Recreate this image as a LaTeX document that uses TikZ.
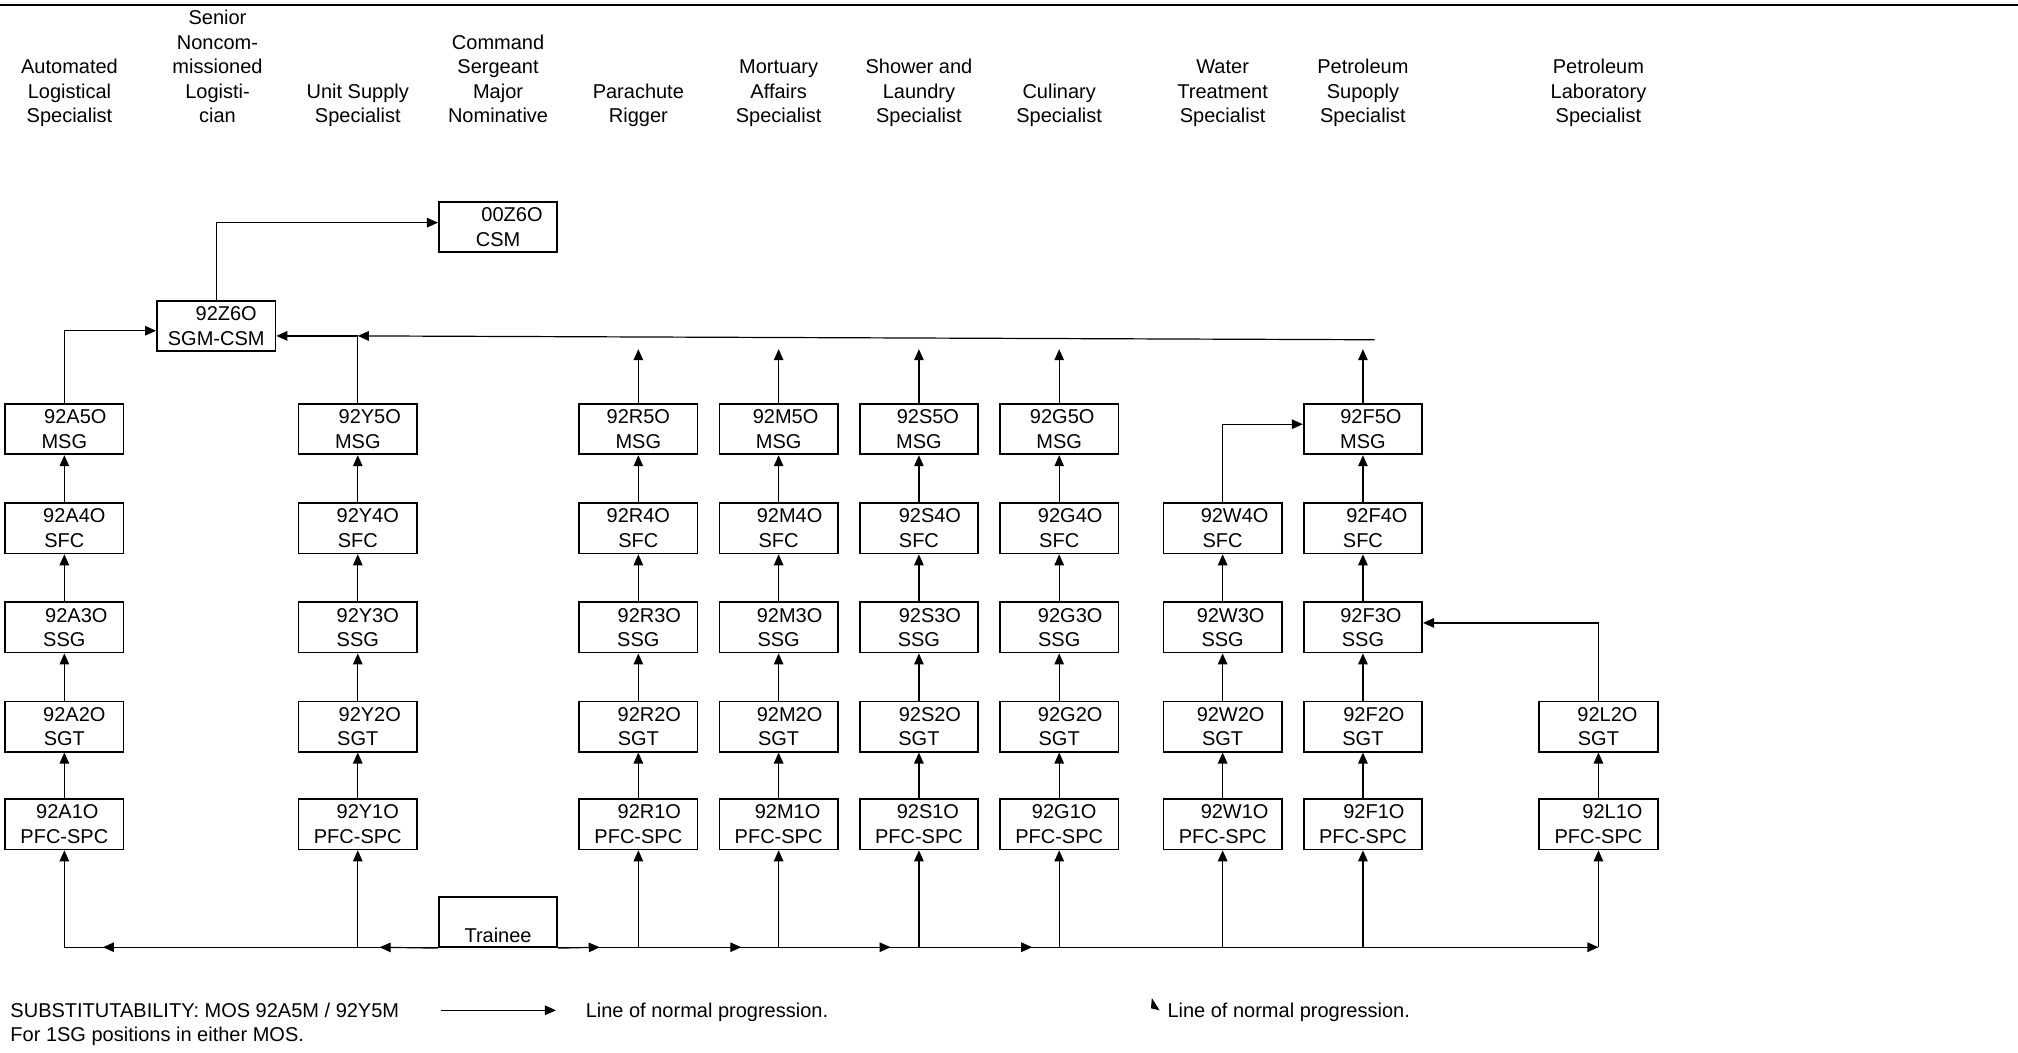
\documentclass[tikz,border=0pt]{standalone}
\usepackage{fontspec}
\setmainfont{Liberation Sans}
\usetikzlibrary{arrows.meta}
\newcommand{\mb}[6]{\node[mos] (#1) at (#2,#3) {\hspace*{#4pt}#5\\#6};}
\begin{document}
\begin{tikzpicture}[x=1.287pt,y=-1.287pt,
  every node/.style={font=\fontsize{20}{24.5}\selectfont, inner sep=0pt},
  mos/.style={draw, line width=1.8pt, minimum width=118.4pt, minimum height=50.2pt, align=center},
  hdr/.style={anchor=south, align=center},
  txt/.style={anchor=base west},
  arr/.style={line width=1.2pt, -{Triangle[length=11pt,width=9.5pt]}},
  ln/.style={line width=1.2pt}
]
\useasboundingbox (0,0) rectangle (1568,818);
% top rule
\coordinate (r1) at (0,4); \coordinate (r2) at (1568,4);
\draw[line width=2.5pt] (r1) -- (r2);
% headers
\node[hdr] (h1) at (54,101.2) {Automated\\Logistical\\Specialist\strut};
\node[hdr] (h2) at (169,101.2) {Senior\\Noncom-\\missioned\\Logisti-\\cian\strut};
\node[hdr] (h3) at (278,101.2) {Unit Supply\\Specialist\strut};
\node[hdr] (h4) at (387,101.2) {Command\\Sergeant\\Major\\Nominative\strut};
\node[hdr] (h5) at (496,101.2) {Parachute\\Rigger\strut};
\node[hdr] (h6) at (605,101.2) {Mortuary\\Affairs\\Specialist\strut};
\node[hdr] (h7) at (714,101.2) {Shower and\\Laundry\\Specialist\strut};
\node[hdr] (h8) at (823,101.2) {Culinary\\Specialist\strut};
\node[hdr] (h9) at (950,101.2) {Water\\Treatment\\Specialist\strut};
\node[hdr] (h10) at (1059,101.2) {Petroleum\\Supoply\\Specialist\strut};
\node[hdr] (h11) at (1242,101.2) {Petroleum\\Laboratory\\Specialist\strut};
% top boxes
\mb{CSM}{387}{176.5}{28}{00Z6O}{CSM}
\mb{Z6}{168}{253.5}{20}{92Z6O}{SGM-CSM}
\node[mos] (Tr) at (387,716.5) {\strut\\Trainee};
% A column
\mb{A5}{50}{333.5}{22}{92A5O}{MSG}
\mb{A4}{50}{410.5}{20}{92A4O}{SFC}
\mb{A3}{50}{487.5}{24}{92A3O}{SSG}
\mb{A2}{50}{564.5}{20}{92A2O}{SGT}
\mb{A1}{50}{640.5}{6}{92A1O}{PFC-SPC}
% Y column
\mb{Y5}{278}{333.5}{24}{92Y5O}{MSG}
\mb{Y4}{278}{410.5}{20}{92Y4O}{SFC}
\mb{Y3}{278}{487.5}{20}{92Y3O}{SSG}
\mb{Y2}{278}{564.5}{24}{92Y2O}{SGT}
\mb{Y1}{278}{640.5}{20}{92Y1O}{PFC-SPC}
% R column
\mb{R5}{496}{333.5}{0}{92R5O}{MSG}
\mb{R4}{496}{410.5}{0}{92R4O}{SFC}
\mb{R3}{496}{487.5}{22}{92R3O}{SSG}
\mb{R2}{496}{564.5}{22}{92R2O}{SGT}
\mb{R1}{496}{640.5}{22}{92R1O}{PFC-SPC}
% M column
\mb{M5}{605}{333.5}{14}{92M5O}{MSG}
\mb{M4}{605}{410.5}{22}{92M4O}{SFC}
\mb{M3}{605}{487.5}{22}{92M3O}{SSG}
\mb{M2}{605}{564.5}{22}{92M2O}{SGT}
\mb{M1}{605}{640.5}{18}{92M1O}{PFC-SPC}
% S column
\mb{S5}{714}{333.5}{18}{92S5O}{MSG}
\mb{S4}{714}{410.5}{22}{92S4O}{SFC}
\mb{S3}{714}{487.5}{22}{92S3O}{SSG}
\mb{S2}{714}{564.5}{22}{92S2O}{SGT}
\mb{S1}{714}{640.5}{18}{92S1O}{PFC-SPC}
% G column
\mb{G5}{823}{333.5}{6}{92G5O}{MSG}
\mb{G4}{823}{410.5}{22}{92G4O}{SFC}
\mb{G3}{823}{487.5}{22}{92G3O}{SSG}
\mb{G2}{823}{564.5}{22}{92G2O}{SGT}
\mb{G1}{823}{640.5}{10}{92G1O}{PFC-SPC}
% W column
\mb{W4}{950}{410.5}{24}{92W4O}{SFC}
\mb{W3}{950}{487.5}{16}{92W3O}{SSG}
\mb{W2}{950}{564.5}{16}{92W2O}{SGT}
\mb{W1}{950}{640.5}{24}{92W1O}{PFC-SPC}
% F column
\mb{F5}{1059}{333.5}{16}{92F5O}{MSG}
\mb{F4}{1059}{410.5}{28}{92F4O}{SFC}
\mb{F3}{1059}{487.5}{16}{92F3O}{SSG}
\mb{F2}{1059}{564.5}{22}{92F2O}{SGT}
\mb{F1}{1059}{640.5}{22}{92F1O}{PFC-SPC}
% L column
\mb{L2}{1242}{564.5}{18}{92L2O}{SGT}
\mb{L1}{1242}{640.5}{28}{92L1O}{PFC-SPC}
% progression within columns
\foreach \c in {A,Y,R,M,S,G,F}
  \foreach \r/\n in {1/2,2/3,3/4,4/5}
    \draw[arr] (\c\r.north) -- (\c\n.south);
\foreach \r/\n in {1/2,2/3,3/4}
  \draw[arr] (W\r.north) -- (W\n.south);
\draw[arr] (L1.north) -- (L2.south);
% free upward arrows
\foreach \c in {R,M,S,G,F} {
  \path (\c5.north) ++(0,-42) coordinate (up\c);
  \draw[arr] (\c5.north) -- (up\c);
}
% links to SGM-CSM and CSM
\draw[arr] (A5.north) |- ([yshift=-4.5pt]Z6.west);
\draw[arr] (Z6.north) |- ([yshift=4.5pt]CSM.west);
\coordinate (hl) at (0,261);
\coordinate (hlR) at (1068,264);
\draw[arr] (Y5.north) -- (Y5.north |- hl) -- (Z6.east |- hl);
\draw[arr] (hlR) -- (Y5.north |- hl);
% cross links
\draw[arr] (W4.north) |- ([yshift=5pt]F5.west);
\draw[arr] (L2.north) |- ([yshift=4.5pt]F3.east);
% trainee bus
\coordinate (bus) at (0,736);
\coordinate (tl1) at (80,736);
\coordinate (tl2) at (295,736);
\coordinate (tr1) at (466,736);
\coordinate (tr2) at (576,736);
\coordinate (tr3) at (692,736);
\coordinate (tr4) at (802,736);
\draw[arr] (A1.south |- bus) -- (L1.south |- bus);
\draw[arr] (Y1.south |- bus) -- (tl1);
\draw[arr] (Tr.south west) -- (tl2);
\draw[arr] (Tr.south east) -- (tr1);
\draw[arr] (R1.south |- bus) -- (tr2);
\draw[arr] (M1.south |- bus) -- (tr3);
\draw[arr] (S1.south |- bus) -- (tr4);
\foreach \c in {A,Y,R,M,S,G,W,F,L}
  \draw[arr] (\c1.south |- bus) -- (\c1.south);
% legend
\node[txt] (sub1) at (8,790.5) {SUBSTITUTABILITY: MOS 92A5M / 92Y5M};
\node[txt] (sub2) at (8,809.5) {For 1SG positions in either MOS.};
\coordinate (lgA) at (343,785);
\coordinate (lgB) at (432,785);
\draw[arr] (lgA) -- (lgB);
\node[txt] (lg1) at (455,790.5) {Line of normal progression.};
\fill (895,775.5) -- (894.3,783.5) -- (901,785) -- cycle;
\node[txt] (lg2) at (907,790.5) {Line of normal progression.};
\end{tikzpicture}
\end{document}
